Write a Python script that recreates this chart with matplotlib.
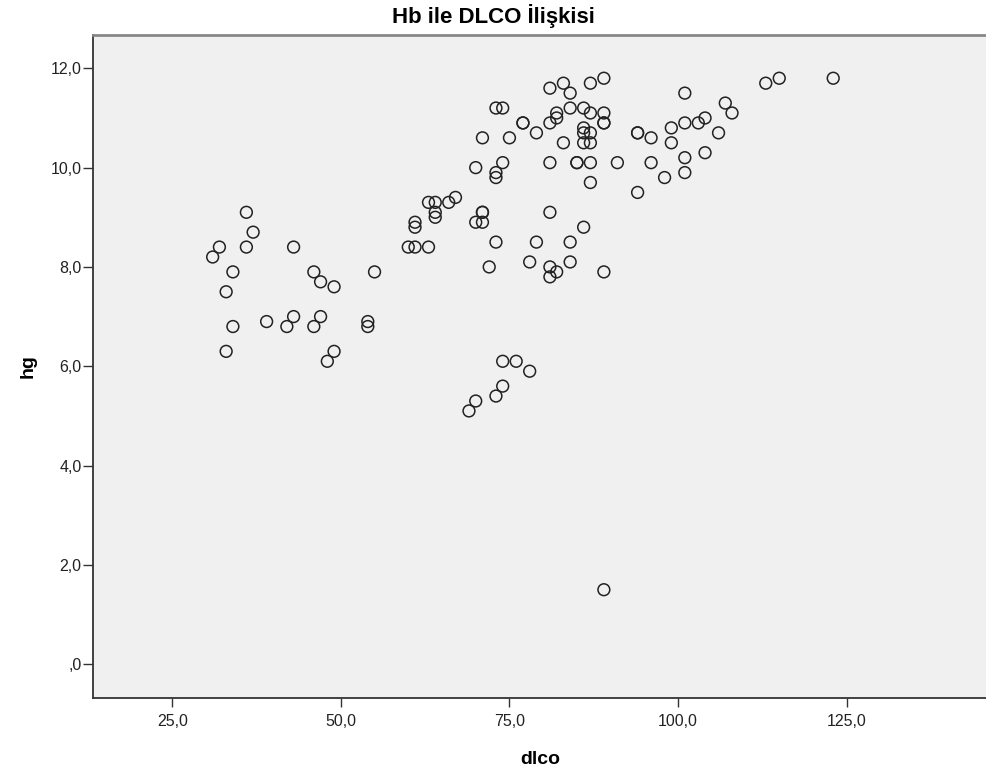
#!/usr/bin/env python3
"""
Hb ile DLCO İlişkisi - SPSS tarzı saçılım grafiği
"""
import matplotlib
matplotlib.use('Agg')
import matplotlib.pyplot as plt
from matplotlib.ticker import FuncFormatter

plt.rcParams['font.family'] = ['Liberation Sans', 'DejaVu Sans']

# veri
dlco = [31, 32, 33, 33, 34, 34, 36, 36, 37, 39,
        42, 43, 43, 46, 46, 47, 47, 48, 49, 49,
        54, 54, 55, 60, 61, 61, 61, 63, 63, 64,
        64, 64, 66, 67, 69, 70, 70, 70, 71, 71,
        71, 71, 72, 73, 73, 73, 73, 73, 74, 74,
        74, 74, 75, 76, 77, 77, 78, 78, 79, 79,
        81, 81, 81, 81, 81, 81, 82, 82, 82, 83,
        83, 84, 84, 84, 84, 85, 85, 86, 86, 86,
        86, 86, 87, 87, 87, 87, 87, 87, 89, 89,
        89, 89, 89, 89, 91, 94, 94, 94, 96, 96,
        98, 99, 99, 101, 101, 101, 101, 103, 104, 104,
        106, 107, 108, 113, 115, 123]
hg = [8.2, 8.4, 7.5, 6.3, 7.9, 6.8, 9.1, 8.4, 8.7, 6.9,
      6.8, 8.4, 7.0, 7.9, 6.8, 7.7, 7.0, 6.1, 7.6, 6.3,
      6.9, 6.8, 7.9, 8.4, 8.4, 8.9, 8.8, 9.3, 8.4, 9.3,
      9.1, 9.0, 9.3, 9.4, 5.1, 5.3, 10.0, 8.9, 9.1, 9.1,
      8.9, 10.6, 8.0, 11.2, 9.9, 9.8, 8.5, 5.4, 11.2, 10.1,
      6.1, 5.6, 10.6, 6.1, 10.9, 10.9, 8.1, 5.9, 10.7, 8.5,
      11.6, 10.9, 10.1, 9.1, 8.0, 7.8, 11.1, 11.0, 7.9, 11.7,
      10.5, 11.5, 11.2, 8.5, 8.1, 10.1, 10.1, 11.2, 10.8, 10.7,
      10.5, 8.8, 11.7, 11.1, 10.7, 10.5, 10.1, 9.7, 11.8, 11.1,
      10.9, 10.9, 7.9, 1.5, 10.1, 10.7, 10.7, 9.5, 10.6, 10.1,
      9.8, 10.8, 10.5, 11.5, 10.9, 10.2, 9.9, 10.9, 11.0, 10.3,
      10.7, 11.3, 11.1, 11.7, 11.8, 11.8]

x_ticks = [25, 50, 75, 100, 125]
y_ticks = [0, 2, 4, 6, 8, 10, 12]


def virgul(v, pos=None):
    s = f"{v:.1f}".replace('.', ',')
    if s.startswith('0,'):
        s = s[1:]
    return s


fig = plt.figure(figsize=(9.87, 7.75), dpi=100)
ax = fig.add_axes([0.0945, 0.0994, 0.9055, 0.8554])
ax.set_facecolor('#F0F0F0')

ax.scatter(dlco, hg, s=72, facecolors='none', edgecolors='#222222',
           linewidths=1.1, zorder=3)

ax.set_xlim(13.3, 145.8)
ax.set_ylim(-0.68, 12.67)
ax.set_xticks(x_ticks)
ax.set_yticks(y_ticks)
ax.xaxis.set_major_formatter(FuncFormatter(virgul))
ax.yaxis.set_major_formatter(FuncFormatter(virgul))

ax.tick_params(axis='x', length=6.5, width=1, pad=5, colors='#333333',
               labelsize=11.5, labelcolor='#222222')
ax.tick_params(axis='y', length=7, width=1, pad=1.5, colors='#333333',
               labelsize=11.5, labelcolor='#222222')

# kenarlar
ax.spines['left'].set_color('#333333')
ax.spines['left'].set_linewidth(1.3)
ax.spines['bottom'].set_color('#333333')
ax.spines['bottom'].set_linewidth(1.3)
ax.spines['top'].set_color('#888888')
ax.spines['top'].set_linewidth(2)
ax.spines['right'].set_visible(False)

ax.set_xlabel('dlco', fontsize=14, fontweight='bold', labelpad=16)
ax.set_ylabel('hg', fontsize=14, fontweight='bold', labelpad=10)
fig.text(0.5, 0.995, 'Hb ile DLCO İlişkisi', ha='center', va='top',
         fontsize=16, fontweight='bold')

fig.savefig('out.png', dpi=100, facecolor='white')
